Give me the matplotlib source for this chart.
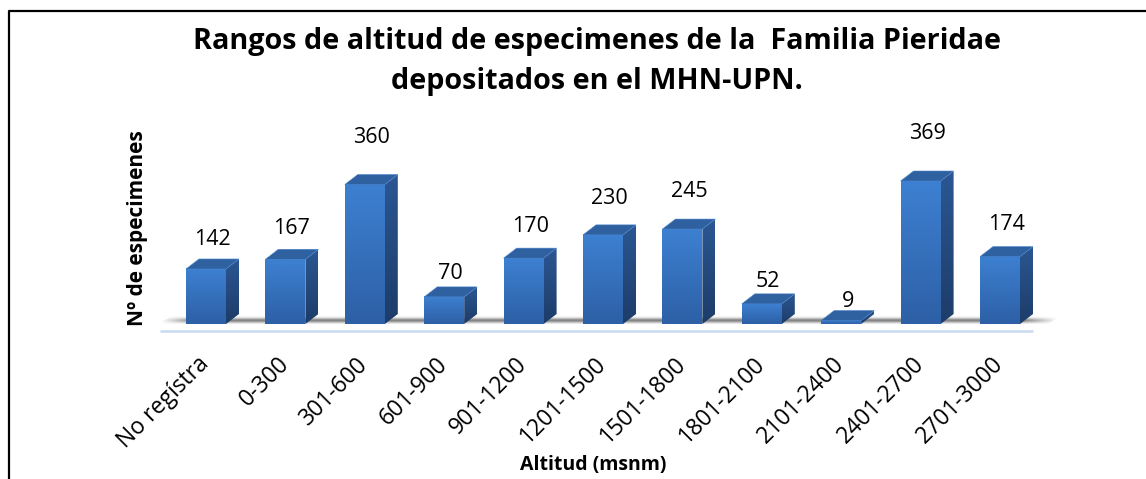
import numpy as np
import matplotlib
matplotlib.use("Agg")
import matplotlib.pyplot as plt
from matplotlib.patches import Polygon
from matplotlib.lines import Line2D
from matplotlib.colors import to_rgb

# ---- data ----
categories = ["No regístra", "0-300", "301-600", "601-900", "901-1200", "1201-1500",
              "1501-1800", "1801-2100", "2101-2400", "2401-2700", "2701-3000"]
values = [142, 167, 360, 70, 170, 230, 245, 52, 9, 369, 174]
title_lines = ["Rangos de altitud de especimenes de la  Familia Pieridae",
               "depositados en el MHN-UPN."]
y_label = "Nº de especimenes"
x_label = "Altitud (msnm)"

plt.rcParams['font.family'] = ['Open Sans', 'DejaVu Sans']

W, H = 1146, 479
fig = plt.figure(figsize=(W / 100, H / 100), dpi=100)

# layout (pixels)
px_cat = 79.4      # pixels per category
px_val = 0.3875    # pixels per unit value
first_center = 206
base_px = 155      # from bottom
ax_l, ax_r, ax_b, ax_t = 150, 1060, 139, 400
ax = fig.add_axes([ax_l / W, ax_b / H, (ax_r - ax_l) / W, (ax_t - ax_b) / H])
xmin = -(first_center - ax_l) / px_cat
xmax = xmin + (ax_r - ax_l) / px_cat
ymin = -(base_px - ax_b) / px_val
ymax = ymin + (ax_t - ax_b) / px_val

bw = 40 / px_cat
ddx = 13 / px_cat
ddy = 10 / px_val
n = len(values)
xs = np.arange(n)


def grad_img(c_top, c_bot, nrow=64):
    t = np.linspace(0, 1, nrow)[:, None, None]
    a = np.array(to_rgb(c_top))[None, None, :]
    b = np.array(to_rgb(c_bot))[None, None, :]
    return a * (1 - t) + b * t


# floor shadow
sh_x0, sh_x1 = -0.6, n - 1 + 0.6
sh_poly = Polygon([(sh_x0, 0), (sh_x1, 0), (sh_x1 + ddx, ddy * 0.8), (sh_x0 + ddx, ddy * 0.8)],
                  closed=True, facecolor='none', edgecolor='none')
ax.add_patch(sh_poly)
ny, nx = 32, 200
vy = np.linspace(0, 1, ny)[:, None]
vx = np.linspace(0, 1, nx)[None, :]
alpha = np.exp(-((vy - 0.55) / 0.3) ** 2) * np.clip(np.minimum(vx, 1 - vx) / 0.04, 0, 1)
shadow = np.zeros((ny, nx, 4))
shadow[..., :3] = 0.42
shadow[..., 3] = alpha * 0.85
im = ax.imshow(shadow, extent=(sh_x0, sh_x1 + ddx, 0, ddy * 0.8), aspect='auto',
               origin='upper', interpolation='bilinear', zorder=1)
im.set_clip_path(sh_poly)

# floor line
ax.plot([-0.58, n - 1 + 0.42], [-18, -18], color='#c8dbf1', lw=1.8, zorder=1,
        solid_capstyle='butt')

# 3D bars
for i, v in zip(xs, values):
    x0, x1 = i - bw / 2, i + bw / 2
    # side face
    side = Polygon([(x1, 0), (x1 + ddx, ddy), (x1 + ddx, v + ddy), (x1, v)], closed=True,
                   facecolor='none', edgecolor='none')
    ax.add_patch(side)
    im = ax.imshow(grad_img('#2b5793', '#1d3c68'), extent=(x1, x1 + ddx, 0, v + ddy),
                   aspect='auto', origin='upper', interpolation='bilinear', zorder=2)
    im.set_clip_path(side)
    # front face
    ax.imshow(grad_img('#3d80d1', '#2d60a6'), extent=(x0, x1, 0, v), aspect='auto',
              origin='upper', interpolation='bilinear', zorder=3)
    # top face
    ax.add_patch(Polygon([(x0, v), (x1, v), (x1 + ddx, v + ddy), (x0 + ddx, v + ddy)],
                         closed=True, facecolor='#2f609f', edgecolor='#4a86cf', lw=0.4,
                         zorder=4))
    # value label
    ax.text(i + ddx / 2, v * 1.206 + 46, str(v), ha='center', va='center', fontsize=15.5,
            color='black', zorder=5)

ax.set_xlim(xmin, xmax)
ax.set_ylim(ymin, ymax)
ax.set_xticks(xs)
ax.set_xticklabels(categories, rotation=45, ha='right', va='center',
                   rotation_mode='anchor', fontsize=16.5)
ax.tick_params(axis='x', length=0, pad=15)
ax.set_yticks([])
for s in ax.spines.values():
    s.set_visible(False)
ax.patch.set_alpha(0)

# titles / labels
fig.text(597 / W, 1 - 41 / H, title_lines[0], ha='center', va='center', fontsize=20.7,
         fontweight='bold')
fig.text(597 / W, 1 - 81 / H, title_lines[1], ha='center', va='center', fontsize=20.7,
         fontweight='bold')
fig.text(137 / W, 1 - 228 / H, y_label, ha='center', va='center', rotation=90,
         fontsize=15, fontweight='bold')
fig.text(593 / W, 1 - 465 / H, x_label, ha='center', va='center', fontsize=14,
         fontweight='bold')

# frame
fig.add_artist(Line2D([9 / W, 9 / W, 1.0], [0, 1 - 11 / H, 1 - 11 / H],
                      transform=fig.transFigure, color='black', lw=1.6))

fig.savefig('out.png', dpi=100)
